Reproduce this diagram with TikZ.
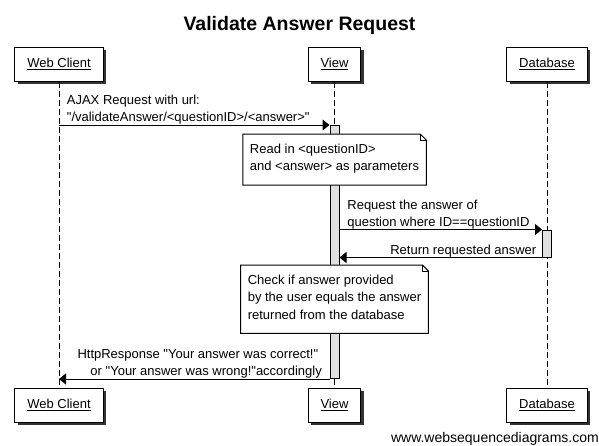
\documentclass[tikz,border=0pt]{standalone}
\usepackage{fontspec}
\setmainfont{Liberation Sans}[Ligatures=TeXOff]
\usepackage{tikz}
\usetikzlibrary{arrows.meta}
\usetikzlibrary{shadows}
\newcommand{\txtstrut}{\rule[-4pt]{0pt}{13.3pt}}
\tikzstyle{actor}=[draw, fill=white, line width=1pt, minimum height=34pt, inner xsep=12.5pt, inner ysep=0pt, font=\fontsize{13}{17.3}\selectfont, drop shadow={opacity=1, fill=black!80, shadow xshift=3pt, shadow yshift=-3pt}]
\tikzstyle{life}=[line width=1pt, dash pattern=on 6pt off 3pt]
\tikzstyle{act}=[draw, fill=black!12, line width=1pt, minimum width=9pt, inner sep=0pt]
\tikzstyle{msg}=[line width=1pt, -{Triangle[length=7pt, width=11pt]}]
\tikzstyle{lbl}=[inner sep=0pt, font=\fontsize{13}{17.3}\selectfont]
\tikzstyle{note}=[fill=white, inner xsep=7pt, inner ysep=10pt, align=left, font=\fontsize{13}{17.3}\selectfont]
\tikzstyle{notebox}=[line width=1pt, line join=miter]

\begin{document}
\begin{tikzpicture}[x=1pt, y=-1pt]
    \useasboundingbox (0,0) rectangle (599,445);
    \node[font=\bfseries\fontsize{19.5}{22}\selectfont] (title) at (299.5,25) {Validate Answer Request};

    \node[actor] (WC) at (59,64) {\underline{Web Client}};
    \node[actor] (V) at (334.5,64) {\underline{View}};
    \node[actor] (DB) at (547,64) {\underline{Database}};
    \node[actor] (WCb) at (59,405) {\underline{Web Client}};
    \node[actor] (Vb) at (334.5,405) {\underline{View}};
    \node[actor] (DBb) at (547,405) {\underline{Database}};
    \draw[life] (WC.south) -- (WCb.north);
    \draw[life] (V.south) -- (Vb.north);
    \draw[life] (DB.south) -- (DBb.north);

    \node[act, anchor=north, minimum height=253pt] (Vact) at (334.5,125) {};
    \node[act, anchor=north, minimum height=27pt] (DBact) at (547,229.5) {};

    \draw[msg] (WC.south |- Vact.north) -- (Vact.north west);
    \node[lbl, anchor=south west, align=left] (m1) at ([xshift=7.7pt, yshift=-1pt]WC.south |- Vact.north)
        {\txtstrut AJAX Request with url:\\\txtstrut "/validateAnswer/<questionID>/<answer>"};

    \node[note, anchor=north] (N1) at (334.5,134)
        {\txtstrut Read in <questionID>\\\txtstrut and <answer> as parameters};
    \draw[notebox] (N1.north west) -- ([xshift=-6pt]N1.north east) -- ([yshift=-6pt]N1.north east)
        -- (N1.south east) -- (N1.south west) -- cycle;
    \draw[notebox] ([xshift=-6pt]N1.north east) -- ++(0,6) -- ++(6,0);

    \draw[msg] (Vact.east |- DBact.north) -- (DBact.north west);
    \node[lbl, anchor=south west, align=left] (m2) at ([xshift=7.7pt, yshift=-1pt]Vact.east |- DBact.north)
        {\txtstrut Request the answer of\\\txtstrut question where ID==questionID};

    \draw[msg] (DBact.south west) -- (Vact.east |- DBact.south);
    \node[lbl, anchor=south east] (m3) at ([xshift=-5.5pt, yshift=-1pt]DBact.south west)
        {\txtstrut Return requested answer};

    \node[note, anchor=north] (N2) at (334.5,265)
        {\txtstrut Check if answer provided\\\txtstrut by the user equals the answer\\\txtstrut returned from the database};
    \draw[notebox] (N2.north west) -- ([xshift=-6pt]N2.north east) -- ([yshift=-6pt]N2.north east)
        -- (N2.south east) -- (N2.south west) -- cycle;
    \draw[notebox] ([xshift=-6pt]N2.north east) -- ++(0,6) -- ++(6,0);

    \draw[msg] (Vact.south west) -- (WC.south |- Vact.south);
    \node[lbl, anchor=south east, align=right] (m4) at ([xshift=-7.5pt, yshift=-1pt]Vact.south west)
        {\txtstrut HttpResponse "Your answer was correct!"\kern3.6pt\\\txtstrut or "Your answer was wrong!"accordingly};

    \node[anchor=east, inner sep=0pt, font=\fontsize{14}{16}\selectfont] (wm) at (599,439) {www.websequencediagrams.com};
\end{tikzpicture}
\end{document}
